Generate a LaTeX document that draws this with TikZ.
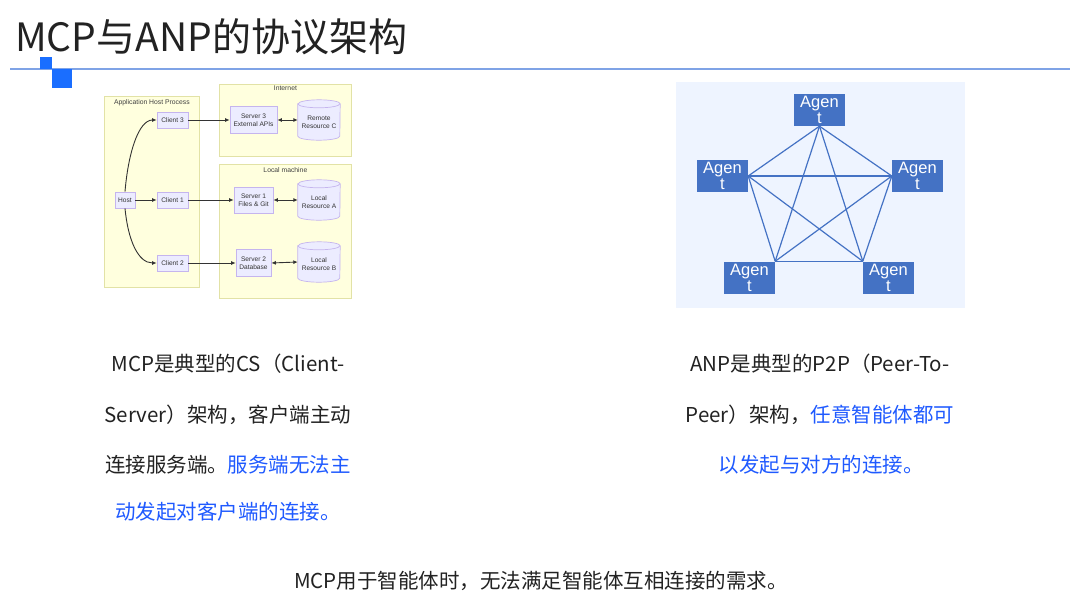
\documentclass[tikz,border=0pt]{standalone}
\usepackage{fontspec}
\setmainfont{Noto Sans CJK SC}
\newfontfamily\lat{Liberation Sans}
\usetikzlibrary{arrows.meta}
\definecolor{txt}{HTML}{222222}
\definecolor{hl}{HTML}{1F5AFF}
\definecolor{rulec}{HTML}{7FA3E6}
\definecolor{sq}{HTML}{1A6EFF}
\definecolor{clfill}{HTML}{FFFFDE}
\definecolor{clline}{HTML}{E2E2A6}
\definecolor{ndfill}{HTML}{ECECFF}
\definecolor{ndline}{HTML}{C5B5EE}
\definecolor{agentc}{HTML}{4472C4}
\definecolor{panelc}{HTML}{EEF4FF}
\newcommand\cylpath[1]{%
 \path[draw=ndline, fill=ndfill, line width=0.7pt] ([yshift=-4pt]#1.north west) -- ([yshift=4pt]#1.south west) arc[start angle=180, end angle=360, x radius=21pt, y radius=4pt] -- ([yshift=-4pt]#1.north east) arc[start angle=0, end angle=180, x radius=21pt, y radius=4pt] -- cycle;
 \draw[draw=ndline, line width=0.7pt] ([yshift=-4pt]#1.north west) arc[start angle=180, end angle=360, x radius=21pt, y radius=4pt];}
\tikzset{
 cluster/.style={draw=clline, fill=clfill, line width=0.8pt, inner sep=0pt, anchor=north west},
 cluslabel/.style={font=\lat\fontsize{6.8}{7.5}\selectfont, text=black!75, anchor=north, inner sep=0pt},
 mnode/.style={draw=ndline, fill=ndfill, line width=0.7pt, font=\lat\fontsize{6.6}{8}\selectfont, align=center, inner sep=0pt, text=black!80, minimum height=16pt},
 cylbox/.style={minimum width=42pt, minimum height=40pt, inner sep=0pt},
 cyltext/.style={font=\lat\fontsize{6.6}{8}\selectfont, align=center, inner sep=0pt, text=black!80},
 marr/.style={-{Latex[length=4.5pt,width=4pt]}, draw=black!80, line width=0.9pt},
 mdarr/.style={{Latex[length=4.5pt,width=4pt]}-{Latex[length=4.5pt,width=4pt]}, draw=black!80, line width=0.9pt},
 agentbox/.style={fill=agentc, minimum width=51pt, minimum height=32pt, inner sep=0pt, text=white, font=\lat\fontsize{16.5}{16}\selectfont, align=center},
 alink/.style={draw=agentc, line width=1.2pt},
 body/.style={font=\fontsize{20.5}{24}\selectfont, text=txt, anchor=base, inner sep=0pt},
}
\begin{document}
\begin{tikzpicture}[x=1pt, y=-1pt]
\useasboundingbox[fill=white] (0,0) rectangle (1080,608);
% title
\node[anchor=base west, font=\fontsize{39}{42}\selectfont, text=txt, inner sep=0pt] (title) at (15,51) {MCP与ANP的协议架构};
\coordinate (rl1) at (10,69);
\coordinate (rl2) at (1070,69);
\draw[rulec, line width=1.2pt] (rl1) -- (rl2);
\fill[sq] (40,57) rectangle (52,69);
\fill[sq] (52,69) rectangle (72,88);
% left diagram clusters
\node[cluster, minimum width=95pt, minimum height=191pt] (ahp) at (104,96) {};
\node[cluslabel] (ahpl) at ([yshift=-3pt]ahp.north) {Application Host Process};
\node[cluster, minimum width=132pt, minimum height=72pt] (inet) at (219,84) {};
\node[cluslabel] (inetl) at ([yshift=-2pt]inet.north) {Internet};
\node[cluster, minimum width=132pt, minimum height=134pt] (lm) at (219,164) {};
\node[cluslabel] (lml) at ([yshift=-3pt]lm.north) {Local machine};
% nodes
\node[mnode, minimum width=20pt] (host) at (125,200) {Host};
\node[mnode, minimum width=31pt] (c3) at (172.5,120) {Client 3};
\node[mnode, minimum width=31pt] (c1) at (172.5,200) {Client 1};
\node[mnode, minimum width=31pt] (c2) at (172.5,263) {Client 2};
\node[mnode, minimum width=47pt, minimum height=27pt] (s3) at (253.5,120) {Server 3\\External APIs};
\node[mnode, minimum width=39pt, minimum height=26pt] (s1) at (253.5,200) {Server 1\\Files \& Git};
\node[mnode, minimum width=35pt, minimum height=27pt] (s2) at (253.5,263) {Server 2\\Database};
\node[cylbox] (rc) at (319,120) {};
\cylpath{rc}
\node[cyltext] (rct) at ([yshift=-2pt]rc.center) {Remote\\Resource C};
\node[cylbox] (ra) at (319,200) {};
\cylpath{ra}
\node[cyltext] (rat) at ([yshift=-2pt]ra.center) {Local\\Resource A};
\node[cylbox] (rb) at (319,262) {};
\cylpath{rb}
\node[cyltext] (rbt) at ([yshift=-2pt]rb.center) {Local\\Resource B};
% arrows
\draw[marr] (host.north) .. controls (128,155) and (138,120) .. (c3.west);
\draw[marr] (host) -- (c1);
\draw[marr] (host.south) .. controls (128,240) and (138,263) .. (c2.west);
\draw[marr] (c3) -- (s3);
\draw[marr] (c1) -- (s1);
\draw[marr] (c2) -- (s2);
\draw[mdarr] (s3) -- (rc);
\draw[mdarr] (s1) -- (ra);
\draw[mdarr] (s2.east) -- (rb.west);
% right panel
\node[fill=panelc, minimum width=289pt, minimum height=226pt, anchor=north west, inner sep=0pt] (panel) at (676,82) {};
\node[agentbox] (at) at (819.5,110) {Agen\\t};
\node[agentbox] (al) at (722.5,176) {Agen\\t};
\node[agentbox] (ar) at (917.5,176) {Agen\\t};
\node[agentbox] (abl) at (749.5,277.5) {Agen\\t};
\node[agentbox] (abr) at (888.5,277.5) {Agen\\t};
\draw[alink] (at.south) -- (al.east);
\draw[alink] (at.south) -- (ar.west);
\draw[alink] (at.south) -- (abl.north east);
\draw[alink] (at.south) -- (abr.north west);
\draw[alink] (al.east) -- (ar.west);
\draw[alink] (al.east) -- (abl.north east);
\draw[alink] (al.east) -- (abr.north west);
\draw[alink] (ar.west) -- (abl.north east);
\draw[alink] (ar.west) -- (abr.north west);
\draw[alink] (abl.north east) -- (abr.north west);
% texts
\node[body] (l1) at (228,371) {MCP是典型的CS（Client-};
\node[body] (l2) at (228,422) {Server）架构，客户端主动};
\node[body] (l3) at (228,472) {连接服务端。\textcolor{hl}{服务端无法主}};
\node[body, text=hl] (l4) at (228,519) {动发起对客户端的连接。};
\node[body] (q1) at (820,371) {ANP是典型的P2P（Peer-To-};
\node[body] (q2) at (820,422) {Peer）架构，\textcolor{hl}{任意智能体都可}};
\node[body, text=hl] (q3) at (821,472) {以发起与对方的连接。};
\node[body] (bt) at (541,588) {MCP用于智能体时，无法满足智能体互相连接的需求。};
\end{tikzpicture}
\end{document}
